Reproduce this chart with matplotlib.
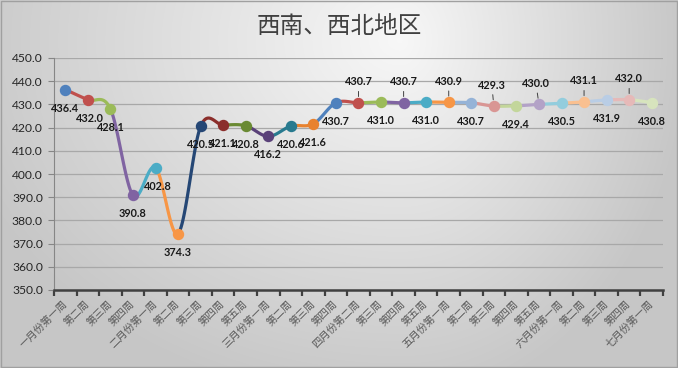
import numpy as np
import matplotlib
matplotlib.use('Agg')
import matplotlib.pyplot as plt
from matplotlib.patches import Rectangle

plt.rcParams['font.family'] = ['Noto Sans CJK SC', 'DejaVu Sans']

# 数据
weeks = ['一月份第一周', '第二周', '第三周', '第四周',
         '二月份第一周', '第二周', '第三周', '第四周', '第五周',
         '三月份第一周', '第二周', '第三周', '第四周',
         '四月份第二周', '第三周', '第四周', '第五周',
         '五月份第一周', '第二周', '第三周', '第四周', '第五周',
         '六月份第一周', '第二周', '第三周', '第四周',
         '七月份第一周']
values = [436.4, 432.0, 428.1, 390.8, 402.8, 374.3, 420.5, 421.1, 420.8,
          416.2, 420.6, 421.6, 430.7, 430.7, 431.0, 430.7, 431.0, 430.9,
          430.7, 429.3, 429.4, 430.0, 430.5, 431.1, 431.9, 432.0, 430.8]

# 每个点的颜色 (Excel 依数据点着色)
pt_colors = ['#4F81BD', '#C0504D', '#9BBB59', '#8064A2', '#4BACC6', '#F79646',
             '#254775', '#8B2E2B', '#6A8A33', '#5A4179', '#287A8F', '#E8822F',
             '#4F81BD', '#C0504D', '#9BBB59', '#8064A2', '#4BACC6', '#F79646',
             '#95B3D7', '#D99694', '#C3D69B', '#B3A2C7', '#93CDDD', '#FAC090',
             '#B9CDE5', '#E6B9B8', '#D7E4BD']
# 数据标签位置: 0 = 下方, 1 = 上方(带引导线)
label_up = [0] * 13 + [1, 0, 1, 0, 1, 0, 1, 0, 1, 0, 1, 0, 1, 0]
label_dx = {1: 2, 4: 2, 19: -2, 21: -3}

W, H = 678, 368
fig = plt.figure(figsize=(W / 100, H / 100), dpi=100)

# 背景渐变
bg = fig.add_axes([0, 0, 1, 1], zorder=-10)
yy, xx = np.mgrid[0:H, 0:W]
ax_scale = np.where(xx < 400, 480.0, 300.0)
d = np.sqrt(((xx - 400) / ax_scale) ** 2 + ((yy - 40) / 380.0) ** 2)
g = np.clip(0.97 - 0.2 * d, 0.78, 1)
bg.imshow(np.dstack([g, g, g]), aspect='auto', extent=[0, 1, 0, 1], origin='upper')
bg.add_patch(Rectangle((0.001, 0.002), 0.998, 0.996, fill=False, ec='#a0a0a0', lw=1))
bg.set_xlim(0, 1)
bg.set_ylim(0, 1)
bg.axis('off')

ax = fig.add_axes([54 / W, 1 - 290 / H, 609 / W, 232 / H])
ax.set_facecolor('none')

n = len(values)
x = np.arange(n)
y = np.array(values)

# 平滑曲线 (Catmull-Rom -> Bezier), 每段用终点颜色
t = np.linspace(0, 1, 30)[:, None]
P = np.column_stack([x, y]).astype(float)
for i in range(n - 1):
    p0 = P[i - 1] if i > 0 else P[i]
    p1, p2 = P[i], P[i + 1]
    p3 = P[i + 2] if i + 2 < n else P[i + 1]
    c1 = p1 + (p2 - p0) / 6
    c2 = p2 - (p3 - p1) / 6
    B = ((1 - t) ** 3) * p1 + 3 * ((1 - t) ** 2) * t * c1 + 3 * (1 - t) * t ** 2 * c2 + t ** 3 * p2
    ax.plot(B[:, 0], B[:, 1], color=pt_colors[i + 1], lw=2.3, solid_capstyle='round', zorder=3)

for i in range(n):
    ax.plot(x[i], y[i], 'o', ms=7.2, color=pt_colors[i], mec=pt_colors[i], zorder=4)

for i in range(n):
    dx = label_dx.get(i, 0)
    if label_up[i]:
        ax.annotate(f'{values[i]:.1f}', xy=(x[i], y[i]), xytext=(dx, 21),
                    textcoords='offset pixels', ha='center', va='center',
                    fontsize=7.8, fontweight='bold', family='Lato', color='#1a1a1a',
                    arrowprops=dict(arrowstyle='-', color='#404040', lw=0.7,
                                    shrinkA=1, shrinkB=4.5), zorder=5)
    else:
        ax.annotate(f'{values[i]:.1f}', xy=(x[i], y[i]), xytext=(dx, -18.5),
                    textcoords='offset pixels', ha='center', va='center',
                    fontsize=7.8, fontweight='bold', family='Lato', color='#1a1a1a', zorder=5)

ax.set_xlim(-0.5, n - 0.5)
ax.set_ylim(350, 450)
ax.set_yticks(np.arange(350, 451, 10))
ax.set_yticklabels([f'{v:.1f}' for v in range(350, 451, 10)], family='Lato', fontsize=8.7, color='#262626')
ax.grid(axis='y', color='#a8a8a8', lw=0.9)
ax.set_axisbelow(True)

ax.set_xticks(x)
ax.set_xticklabels(weeks, rotation=45, ha='right', va='center', rotation_mode='anchor',
                   fontsize=7.5, color='#595959')
ax.set_xticks(np.arange(-0.5, n, 1), minor=True)
ax.tick_params(axis='x', which='major', length=0, pad=9)
ax.tick_params(axis='x', which='minor', length=4, width=1.6, color='#404040', direction='out')
ax.tick_params(axis='y', length=4, width=0.8, color='#868686', pad=4)

for s in ['top', 'right']:
    ax.spines[s].set_visible(False)
ax.spines['left'].set_color('#868686')
ax.spines['left'].set_linewidth(0.8)
ax.spines['bottom'].set_color('#404040')
ax.spines['bottom'].set_linewidth(1.8)

fig.text(339 / W, 1 - 26 / H, '西南、西北地区', ha='center', va='center', fontsize=17, color='#404040')

fig.savefig('out.png', dpi=100)
